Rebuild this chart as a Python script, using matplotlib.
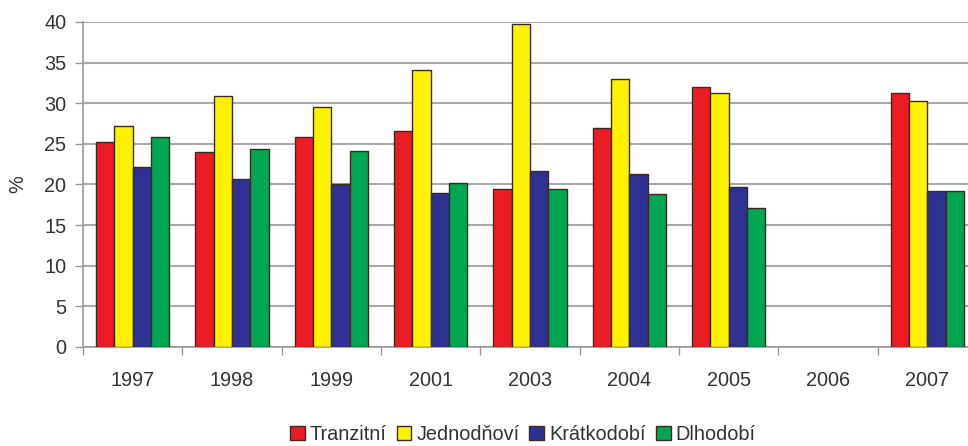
import numpy as np
import matplotlib
matplotlib.use('Agg')
import matplotlib.pyplot as plt

plt.rcParams['font.family'] = ['Liberation Sans', 'DejaVu Sans']

years = ['1997', '1998', '1999', '2001', '2003', '2004', '2005', '2006', '2007']
series = ['Tranzitní', 'Jednodňoví', 'Krátkodobí', 'Dlhodobí']
tranzitni = [25.2, 24.0, 25.9, 26.6, 19.4, 27.0, 32.0, 0, 31.3]
jednodnovi = [27.2, 30.9, 29.5, 34.1, 39.8, 33.0, 31.3, 0, 30.3]
kratkodobi = [22.1, 20.7, 20.1, 19.0, 21.7, 21.3, 19.7, 0, 19.2]
dlhodobi = [25.8, 24.4, 24.1, 20.2, 19.4, 18.8, 17.1, 0, 19.2]
colors = ['#ec1c24', '#fff200', '#2e3192', '#00a651']

fig = plt.figure(figsize=(9.68, 4.46), dpi=100)
ax = fig.add_axes([0.0857, 0.222, 0.9236, 0.7287])

x = np.arange(len(years))
w = 0.185
data = [tranzitni, jednodnovi, kratkodobi, dlhodobi]
for i, (vals, c, name) in enumerate(zip(data, colors, series)):
    vals = np.array(vals, dtype=float)
    mask = vals > 0
    ax.bar(x[mask] + (i - 1.5) * w, vals[mask], w, color=c, edgecolor='#3a2a20',
           linewidth=1.0, label=name, zorder=3)

ax.set_xlim(-0.5, len(years) - 0.5)
ax.set_ylim(0, 40)
ax.set_yticks(range(0, 41, 5))
ax.yaxis.grid(True, color='#aaaaaa', linewidth=1.5, zorder=0)

ax.set_xticks(x)
ax.set_xticklabels(years)
ax.set_xticks(np.arange(-0.5, len(years), 1), minor=True)
ax.tick_params(axis='x', which='major', length=0, pad=17, labelsize=14.3, labelcolor='#333333')
ax.tick_params(axis='x', which='minor', length=6, color='#999999', width=1)
ax.tick_params(axis='y', length=6, color='#999999', width=1, labelsize=14.3,
               labelcolor='#333333', pad=6)

for s in ['top', 'right']:
    ax.spines[s].set_visible(False)
ax.spines['left'].set_color('#999999')
ax.spines['bottom'].set_color('#999999')
ax.spines['left'].set_linewidth(1.2)
ax.spines['bottom'].set_linewidth(1.2)

ax.set_ylabel('%', fontsize=14.3, color='#333333', labelpad=12)

fig.legend(loc='center', bbox_to_anchor=(0.54, 0.026), ncol=4, frameon=False,
           fontsize=14.3, handlelength=0.75, handleheight=0.75, handletextpad=0.25,
           columnspacing=0.5, labelcolor='#333333', borderpad=0)

fig.savefig('out.png', dpi=100)
